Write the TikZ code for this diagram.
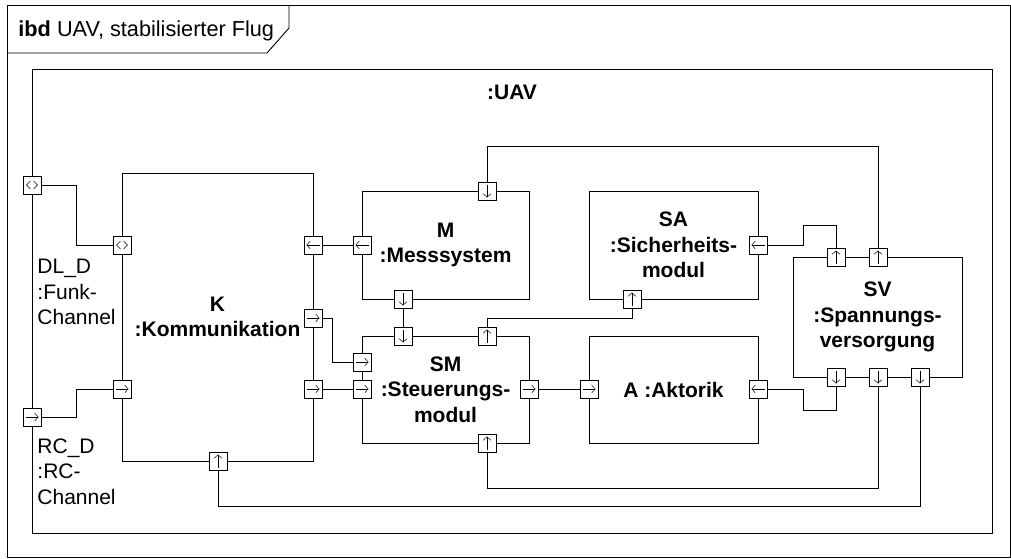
\documentclass[tikz,border=0pt]{standalone}
\usepackage{fontspec}
\setmainfont{Liberation Sans}
\usetikzlibrary{arrows.meta}

\begin{document}
\begin{tikzpicture}[x=1pt, y=-1pt, line width=0.9pt,
	every node/.style={font=\fontsize{21}{25.5}\selectfont},
	blk/.style={draw, fill=white, align=center, inner sep=0pt, outer sep=0pt, font=\fontsize{21}{25.5}\selectfont\bfseries},
	port/.style={draw, fill=white, minimum size=18pt, inner sep=0pt, outer sep=0pt},
	pdir/.style={port, path picture={\draw[line width=0.5pt, -{Straight Barb[length=3.5pt, width=8pt]}] (path picture bounding box.center) ++(#1+180:6.5pt) -- ++(#1:13pt);}},
	pbi/.style={port, path picture={
		\draw[line width=0.5pt] ([shift={(-1.5pt,4pt)}]path picture bounding box.center) -- ([shift={(-5.5pt,0pt)}]path picture bounding box.center) -- ([shift={(-1.5pt,-4pt)}]path picture bounding box.center);
		\draw[line width=0.5pt] ([shift={(1.5pt,4pt)}]path picture bounding box.center) -- ([shift={(5.5pt,0pt)}]path picture bounding box.center) -- ([shift={(1.5pt,-4pt)}]path picture bounding box.center);}}]
	\useasboundingbox (0,0) rectangle (1011,558);
	\draw (7,5) rectangle (1010,557);
	\draw (7,53) -- (267,53) -- (289,28) -- (289,5);
	\node[anchor=base west, inner sep=0pt, font=\fontsize{21.7}{25.5}\selectfont] (hdr) at (18,36) {\textbf{ibd} UAV, stabilisierter Flug};
	\draw (32,69) rectangle (992,533);
	\node[anchor=base, inner sep=0pt, font=\fontsize{21}{25.5}\selectfont\bfseries] (uav) at (512,99) {:UAV};
	\node[blk, minimum width=191pt, minimum height=288pt] (K) at (217.5,317) {K\\:Kommunikation};
	\node[blk, minimum width=167pt, minimum height=108pt] (M) at (445.5,245) {M\\:Messsystem};
	\node[blk, minimum width=167pt, minimum height=107pt] (SM) at (445.5,389.5) {SM\\:Steuerungs-\\modul};
	\node[blk, minimum width=169pt, minimum height=108pt] (SA) at (673.5,245) {SA\\:Sicherheits-\\modul};
	\node[blk, minimum width=169pt, minimum height=107pt] (A) at (673.5,389.5) {A :Aktorik};
	\node[blk, minimum width=169pt, minimum height=120pt] (SV) at (877.5,317) {SV\\:Spannungs-\\versorgung};
	\node[anchor=north west, inner sep=0pt, align=left] (dl) at (37,259) {DL\_D\\:Funk-\\Channel};
	\node[anchor=north west, inner sep=0pt, align=left] (rc) at (37,438) {RC\_D\\:RC-\\Channel};
	\node[pbi] (pDL) at (32,185) {};
	\node[pdir=0] (pRC) at (32,417) {};
	\node[pbi] (kDL) at (122,245) {};
	\node[pdir=0] (kRC) at (122,389) {};
	\node[pdir=180] (kM) at (313,245) {};
	\node[pdir=0] (kS1) at (313,318) {};
	\node[pdir=0] (kS2) at (313,389) {};
	\node[pdir=90] (kV) at (218,461) {};
	\node[pdir=180] (mK) at (362,245) {};
	\node[pdir=270] (mV) at (487,191) {};
	\node[pdir=270] (mS) at (403,299) {};
	\node[pdir=270] (smM) at (403,336) {};
	\node[pdir=90] (smSA) at (487,336) {};
	\node[pdir=0] (smK1) at (362,362) {};
	\node[pdir=0] (smK2) at (362,389) {};
	\node[pdir=0] (smA) at (529,389) {};
	\node[pdir=90] (smV) at (487,443) {};
	\node[pdir=180] (saV) at (758,245) {};
	\node[pdir=90] (saS) at (632,299) {};
	\node[pdir=0] (aS) at (589,389) {};
	\node[pdir=180] (aV) at (758,389) {};
	\node[pdir=90] (svT1) at (836,257) {};
	\node[pdir=90] (svT2) at (878,257) {};
	\node[pdir=270] (svB1) at (836,377) {};
	\node[pdir=270] (svB2) at (878,377) {};
	\node[pdir=270] (svB3) at (920,377) {};
	\draw (pDL) -- (76,185) |- (kDL);
	\draw (pRC) -- (76,417) |- (kRC);
	\draw (mK) -- (kM);
	\draw (kS1) -- (332,318) |- (smK1);
	\draw (kS2) -- (smK2);
	\draw (mS) -- (smM);
	\draw (smSA) -- (487,318) -| (saS);
	\draw (smA) -- (aS);
	\draw (svT1) -- (836,225) -| (803,245) -- (saV);
	\draw (svT2) -- (878,146) -| (mV);
	\draw (svB1) -- (836,410) -| (803,389) -- (aV);
	\draw (svB2) -- (878,488) -| (smV);
	\draw (svB3) -- (920,506) -| (kV);
\end{tikzpicture}
\end{document}
